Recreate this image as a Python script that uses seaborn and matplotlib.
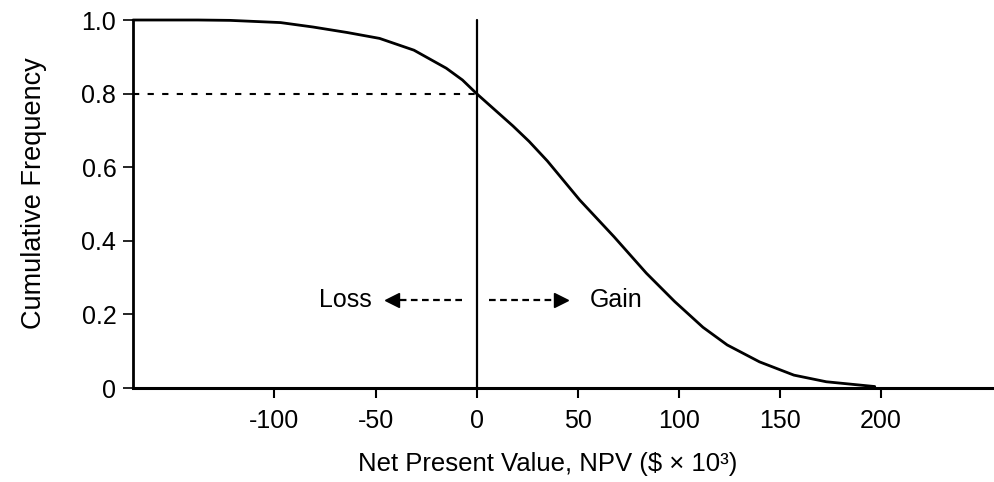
import numpy as np
import pandas as pd
import seaborn as sns
import matplotlib
matplotlib.use("Agg")
import matplotlib.pyplot as plt

# values
npv = [-170, -138, -122, -97, -81, -64, -48, -31, -15, -7, 0, 18, 26, 35, 51, 68, 84,
       98, 112, 124, 140, 157, 173, 197]
cum_freq = [1.0, 1.0, 0.999, 0.993, 0.981, 0.966, 0.950, 0.918, 0.869, 0.837, 0.80,
            0.712, 0.670, 0.617, 0.511, 0.411, 0.312, 0.235, 0.165, 0.117, 0.071,
            0.035, 0.017, 0.004]
x_ticks = [-100, -50, 0, 50, 100, 150, 200]
y_ticks = [0, 0.2, 0.4, 0.6, 0.8, 1.0]
y_labels = ["0", "0.2", "0.4", "0.6", "0.8", "1.0"]
threshold = 0.8

sns.set_theme(style="ticks")
plt.rcParams["font.family"] = ["Liberation Sans", "DejaVu Sans"]
plt.rcParams["text.color"] = "black"

df = pd.DataFrame({"npv": npv, "cum": cum_freq})

fig = plt.figure(figsize=(9.94, 4.82), dpi=100)
ax = fig.add_axes([0.1338, 0.195, 0.8662, 0.7635])

sns.lineplot(data=df, x="npv", y="cum", color="black", linewidth=2, ax=ax, clip_on=False)

# reference lines
ax.plot([0, 0], [0, 1.0], color="black", linewidth=1.6, clip_on=False)
ax.plot([-170, 0], [threshold, threshold], color="black", linewidth=1.5,
        linestyle=(0, (3, 4)), clip_on=False)

# loss / gain arrows
ya = 0.24
ax.plot([-7, -40], [ya, ya], color="black", linewidth=1.6, linestyle=(0, (3, 2)))
ax.plot([-42], [ya], marker="<", color="black", markersize=10)
ax.plot([6, 40], [ya, ya], color="black", linewidth=1.6, linestyle=(0, (3, 2)))
ax.plot([42], [ya], marker=">", color="black", markersize=10)
ax.text(-52, ya, "Loss", ha="right", va="center", fontsize=18, color="black")
ax.text(56, ya, "Gain", ha="left", va="center", fontsize=18, color="black")

ax.set_xlim(-170, 256)
ax.set_ylim(0, 1.0)
ax.set_xticks(x_ticks)
ax.set_xticklabels([str(t) for t in x_ticks])
ax.set_yticks(y_ticks)
ax.set_yticklabels(y_labels)
ax.tick_params(axis="x", direction="out", length=7, width=1.5, pad=8, labelsize=18, colors="black")
ax.tick_params(axis="y", direction="out", length=7, width=1.2, pad=5, labelsize=18, colors="black")

sns.despine(ax=ax, top=True, right=True)
ax.spines["left"].set_linewidth(2)
ax.spines["bottom"].set_linewidth(2.2)
ax.spines["left"].set_color("black")
ax.spines["bottom"].set_color("black")

ax.set_xlabel("Net Present Value, NPV (\\$ \u00d7 10\u00b3)", fontsize=18.5, color="black")
ax.xaxis.set_label_coords(0.482, -0.175)
ax.set_ylabel("Cumulative Frequency", fontsize=19.5, color="black")
ax.yaxis.set_label_coords(-0.10, 0.53)

fig.savefig("out.png", dpi=100, facecolor="white")
